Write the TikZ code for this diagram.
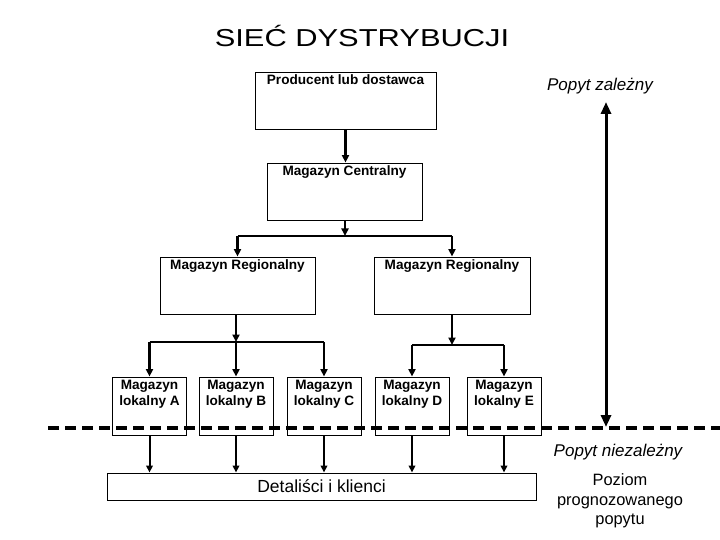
\documentclass[tikz,border=0pt]{standalone}
\usepackage{fontspec}
\setmainfont{Liberation Sans}
\usetikzlibrary{positioning, arrows.meta, calc}

\begin{document}
\begin{tikzpicture}[
    x=1pt, y=-1pt,
    box/.style={draw=black, line width=0.9pt, minimum width=#1, inner sep=0pt},
    boxtext/.style={anchor=north, inner sep=3pt, align=center,
        font=\bfseries\fontsize{13.6}{16.5}\selectfont},
    upconn/.style={line width=2.6pt, -{Triangle[length=7.5pt, width=7pt]}},
    lowconn/.style={line width=2pt, -{Triangle[length=7pt, width=6.5pt]}},
    bar/.style={line width=2.6pt},
    sidetext/.style={font=\itshape\fontsize{17}{20}\selectfont}
]

\useasboundingbox (0,0) rectangle (720,540);

\node (title) at (362,36) {\scalebox{1.26}[1]{\fontsize{24.5}{28}\selectfont SIEĆ DYSTRYBUCJI}};

% upper levels: producer, central store, regional stores
\node[box=181pt, minimum height=57pt] (prod) at (345.5,100.5) {};
\node[boxtext] (prodT) at (prod.north) {Producent lub dostawca};

\node[box=155pt, minimum height=57pt] (central) at (344.5,191.5) {};
\node[boxtext] (centralT) at (central.north) {Magazyn Centralny};

\node[box=155pt, minimum height=57pt] (regL) at (237.5,285.5) {};
\node[boxtext] (regLT) at (regL.north) {Magazyn Regionalny};
\node[box=156pt, minimum height=57pt] (regR) at (452,285.5) {};
\node[boxtext] (regRT) at (regR.north) {Magazyn Regionalny};

% local stores
\foreach \nm/\xc/\ltr in {locA/149.5/A, locB/236/B, locC/324/C, locD/412/D, locE/504/E} {
    \node[box=74pt, minimum height=58pt] (\nm) at (\xc,406) {};
    \node[boxtext] (\nm T) at (\nm.north) {Magazyn\\lokalny \ltr};
}

\node[box=429pt, minimum height=27pt, font=\fontsize{17.5}{20}\selectfont] (retail) at (321.5,486.5) {Detaliści i klienci};

% connectors
\draw[upconn] (prod.south) -- (prod.south |- central.north);

\coordinate (jc) at (345,236);
\draw[upconn] (central.south -| jc) -- (jc);
\draw[bar] (regL.north |- jc) -- (regR.north |- jc);
\draw[upconn] (regL.north |- jc) -- (regL.north);
\draw[upconn] (regR.north |- jc) -- (regR.north);

\coordinate (jl) at (236,342);
\draw[upconn] (regL.south -| jl) -- (jl);
\draw[bar] (locA.north |- jl) -- (locC.north |- jl);
\foreach \nm in {locA, locB, locC}
    \draw[upconn] (\nm.north |- jl) -- (\nm.north);

\coordinate (jr) at (452,345);
\draw[upconn] (regR.south -| jr) -- (jr);
\draw[bar] (locD.north |- jr) -- (locE.north |- jr);
\foreach \nm in {locD, locE}
    \draw[upconn] (\nm.north |- jr) -- (\nm.north);

\foreach \nm in {locA, locB, locC, locD, locE}
    \draw[lowconn] (\nm.south) -- (\nm.south |- retail.north);

% demand split
\coordinate (splitL) at (48,428);
\coordinate (splitR) at (720,428);
\draw[line width=3.2pt, dash pattern=on 11pt off 6pt] (splitL) -- (splitR);

\coordinate (depTop) at (606,102);
\coordinate (depBot) at (606,427);
\draw[line width=3pt, {Triangle[length=12pt, width=10pt]}-{Triangle[length=12pt, width=10pt]}] (depTop) -- (depBot);

\node[sidetext] (dep) at (600,86) {Popyt zależny};
\node[sidetext] (indep) at (618,452) {Popyt niezależny};
\node[align=center, font=\fontsize{16.4}{19.5}\selectfont] (level) at (620,501) {Poziom\\prognozowanego\\popytu};

\end{tikzpicture}
\end{document}
